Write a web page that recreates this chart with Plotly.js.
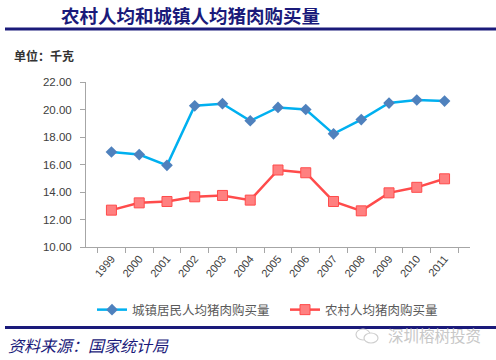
<!DOCTYPE html>
<html><head><meta charset="utf-8">
<script src="https://cdn.plot.ly/plotly-3.0.1.min.js"></script>
<style>html,body{margin:0;padding:0;background:#fff;}#chart{width:496px;height:360px;}</style>
</head><body><div id="chart"></div>
<script>
const years = ['1999','2000','2001','2002','2003','2004','2005','2006','2007','2008','2009','2010','2011'];
const urban = [16.91,16.72,15.94,20.27,20.42,19.18,20.15,20.00,18.23,19.27,20.47,20.69,20.61];
const rural = [12.68,13.21,13.31,13.65,13.75,13.41,15.60,15.40,13.31,12.63,13.94,14.34,14.96];
const urbanName = '城镇居民人均猪肉购买量';
const ruralName = '农村人均猪肉购买量';
const titleText = '农村人均和城镇人均猪肉购买量';
const unitText = '单位：千克';
const sourceText = '资料来源：国家统计局';
const watermark = '深圳榕树投资';

const cjk = '"Noto Sans CJK SC", sans-serif';
const navy = '#1a1a7a';
// paper coordinates: plot x 86..470 (384px), y 82..247 (165px)
const px = v => (v - 86) / 384;
const py = v => (247 - v) / 165;

const traces = [
  {x: years, y: urban, name: urbanName, type: 'scatter', mode: 'lines+markers', legend: 'legend',
   line: {color: '#00b0f0', width: 2.5},
   marker: {symbol: 'diamond', size: 9, color: '#4f81bd', line: {color: '#4f81bd', width: 0}}},
  {x: years, y: rural, name: ruralName, type: 'scatter', mode: 'lines+markers', legend: 'legend2',
   line: {color: '#ff4b4b', width: 2.5},
   marker: {symbol: 'square', size: 10, color: '#ff8080', line: {color: '#ff4b4b', width: 1}}}
];

const legendBase = {orientation: 'h', xanchor: 'left', y: py(310), yanchor: 'middle',
  font: {family: cjk, size: 12.5, color: '#595959'}, itemwidth: 30, bgcolor: 'rgba(0,0,0,0)'};

const layout = {
  width: 496, height: 360,
  margin: {l: 86, r: 26, t: 82, b: 113},
  paper_bgcolor: '#fff', plot_bgcolor: '#fff',
  showlegend: true,
  legend: Object.assign({}, legendBase, {x: px(92)}),
  legend2: Object.assign({}, legendBase, {x: px(285)}),
  xaxis: {type: 'category', showline: true, linecolor: '#a6a6a6', linewidth: 1,
          ticks: 'outside', ticklen: 5, tickcolor: '#a6a6a6', tickson: 'boundaries',
          tickangle: -50, showgrid: false, zeroline: false,
          tickfont: {family: 'Arial, "Liberation Sans", sans-serif', size: 11, color: '#404040'}},
  yaxis: {range: [10, 22], dtick: 2, tickformat: '.2f', showline: true, linecolor: '#a6a6a6',
          linewidth: 1, ticks: 'outside', ticklen: 5, tickcolor: '#a6a6a6', showgrid: false,
          ticklabelstandoff: 6,
          zeroline: false, tickfont: {family: 'Arial, "Liberation Sans", sans-serif', size: 11.5, color: '#404040'}},
  shapes: [
    {type: 'line', xref: 'paper', yref: 'paper', x0: px(5), x1: px(496), y0: py(29), y1: py(29),
     line: {color: navy, width: 3}},
    {type: 'line', xref: 'paper', yref: 'paper', x0: px(5), x1: px(496), y0: py(327.5), y1: py(327.5),
     line: {color: navy, width: 3}},
    {type: 'circle', xref: 'paper', yref: 'paper', x0: px(356), x1: px(370), y0: py(340), y1: py(329),
     line: {color: '#cfcfcf', width: 1.2}, fillcolor: '#fff'},
    {type: 'circle', xref: 'paper', yref: 'paper', x0: px(364), x1: px(378), y0: py(343), y1: py(333),
     line: {color: '#cfcfcf', width: 1.2}, fillcolor: '#fff'}
  ],
  annotations: [
    {text: '<b>' + titleText + '</b>', xref: 'paper', yref: 'paper', x: px(190), y: py(15),
     xanchor: 'center', yanchor: 'middle', showarrow: false,
     font: {family: cjk, size: 18.5, color: navy}},
    {text: '<b>' + unitText + '</b>', xref: 'paper', yref: 'paper', x: px(12), y: py(55),
     xanchor: 'left', yanchor: 'middle', showarrow: false,
     font: {family: cjk, size: 12, color: '#333'}},
    {text: '<i>' + sourceText + '</i>', xref: 'paper', yref: 'paper', x: px(6), y: py(345),
     xanchor: 'left', yanchor: 'middle', showarrow: false,
     font: {family: cjk, size: 16, color: navy}},
    {text: watermark, xref: 'paper', yref: 'paper', x: px(483), y: py(335),
     xanchor: 'right', yanchor: 'middle', showarrow: false,
     font: {family: cjk, size: 15.5, color: '#c8c8c8'}}
  ]
};
Plotly.newPlot('chart', traces, layout, {displayModeBar: false, staticPlot: true});
</script>
</body></html>
